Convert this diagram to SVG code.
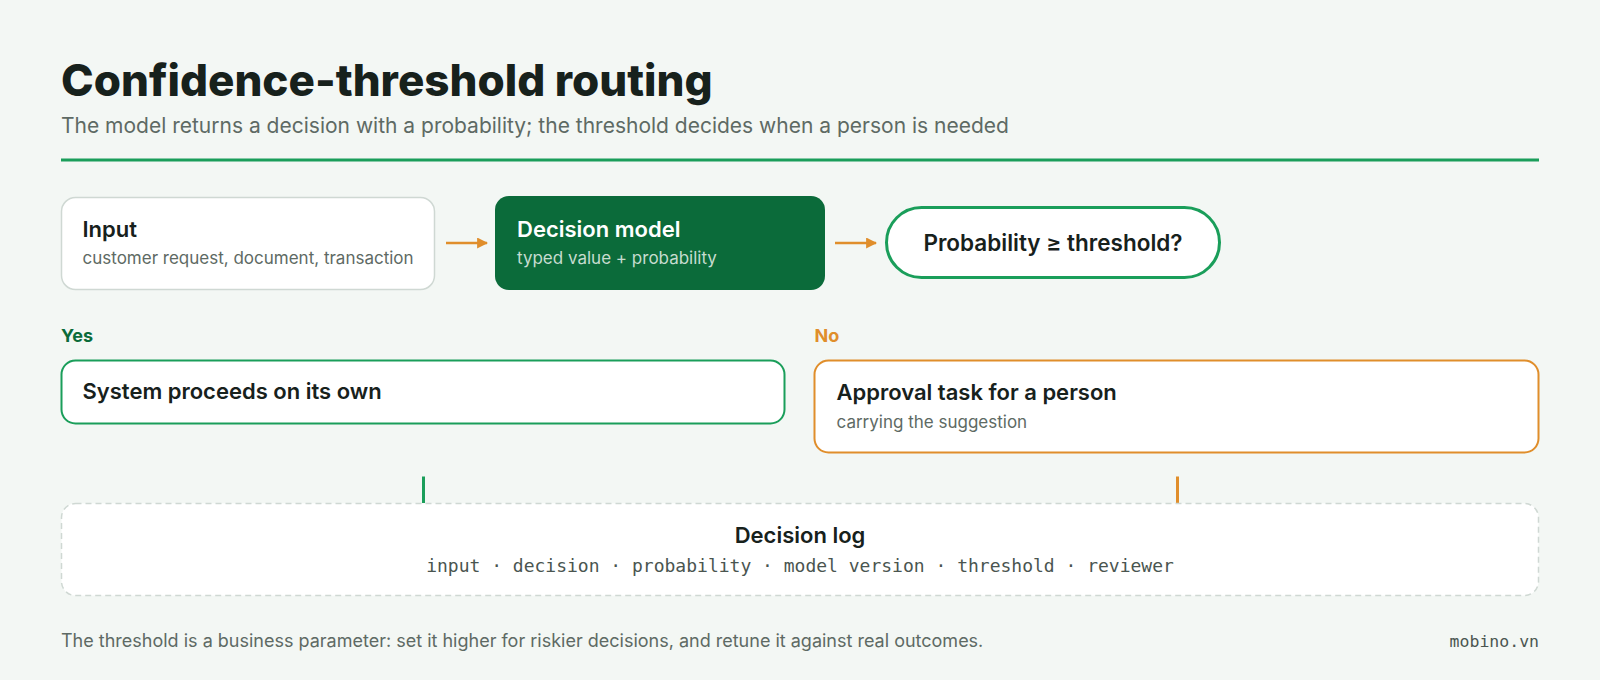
<svg xmlns="http://www.w3.org/2000/svg" width="1600" height="680" viewBox="0 0 1600 680">
<defs>
<style>
.sans{font-family:Inter,"Noto Sans","Liberation Sans",sans-serif}
.mono{font-family:"DejaVu Sans Mono","Liberation Mono",monospace}
.ttl{font-size:22px;font-weight:600;fill:#17211c}
.sub{font-size:17px;fill:#5e6a64}
.card{fill:#ffffff}
</style>
<marker id="ah" viewBox="0 0 10 10" refX="9" refY="5" markerWidth="11" markerHeight="11" markerUnits="userSpaceOnUse" orient="auto">
<path d="M0,0 L10,5 L0,10 z" fill="#e08e2b"/>
</marker>
</defs>
<rect width="1600" height="680" fill="#f3f7f4"/>
<text x="61" y="96" class="sans" font-size="44" font-weight="800" fill="#17211c">Confidence-threshold routing</text>
<text x="61" y="133" class="sans" font-size="21" fill="#5e6a64">The model returns a decision with a probability; the threshold decides when a person is needed</text>
<rect x="61" y="158.5" width="1478" height="3" fill="#1a9e5a"/>

<g id="connectors">
<line x1="446" y1="243" x2="487" y2="243" stroke="#e08e2b" stroke-width="2.5" marker-end="url(#ah)"/>
<line x1="835" y1="243" x2="876" y2="243" stroke="#e08e2b" stroke-width="2.5" marker-end="url(#ah)"/>
<line x1="423.5" y1="476.5" x2="423.5" y2="503" stroke="#1a9e5a" stroke-width="3"/>
<line x1="1177.5" y1="476.5" x2="1177.5" y2="503" stroke="#e08e2b" stroke-width="3"/>
</g>

<g id="input">
<rect x="61.5" y="197.5" width="373" height="92" rx="14" class="card" stroke="#cfd8d3" stroke-width="1.5"/>
<text x="82.5" y="236.5" class="sans ttl">Input</text>
<text x="82.5" y="264" class="sans sub">customer request, document, transaction</text>
</g>

<g id="model">
<rect x="495" y="196" width="330" height="94" rx="14" fill="#0b6b3a"/>
<text x="517" y="236.5" class="sans ttl" style="fill:#ffffff">Decision model</text>
<text x="517" y="264" class="sans sub" style="fill:#c6dccf">typed value + probability</text>
</g>

<g id="check">
<rect x="886.5" y="207.5" width="333" height="70" rx="35" class="card" stroke="#1a9e5a" stroke-width="3"/>
<text x="1053" y="251" text-anchor="middle" class="sans ttl" style="font-size:22.5px">Probability ≥ threshold?</text>
</g>

<g id="yes">
<text x="61" y="341.5" class="sans" font-size="18" font-weight="700" fill="#0b6b3a">Yes</text>
<rect x="61.5" y="360.5" width="723" height="63" rx="14" class="card" stroke="#1a9e5a" stroke-width="2"/>
<text x="82.5" y="399" class="sans ttl">System proceeds on its own</text>
</g>

<g id="no">
<text x="814.5" y="341.5" class="sans" font-size="18" font-weight="700" fill="#e08e2b">No</text>
<rect x="814.5" y="360.5" width="724" height="92" rx="14" class="card" stroke="#e08e2b" stroke-width="2"/>
<text x="836.5" y="400" class="sans ttl">Approval task for a person</text>
<text x="836.5" y="427.5" class="sans sub">carrying the suggestion</text>
</g>

<g id="log">
<rect x="61.5" y="503.5" width="1477" height="92" rx="14" class="card" stroke="#cfd8d3" stroke-width="1.5" stroke-dasharray="6 4"/>
<text x="800" y="543" text-anchor="middle" class="sans ttl">Decision log</text>
<text x="800" y="571.5" text-anchor="middle" class="mono" font-size="18" fill="#4a5550">input · decision · probability · model version · threshold · reviewer</text>
</g>

<text x="61" y="647" class="sans" font-size="18" fill="#5e6a64">The threshold is a business parameter: set it higher for riskier decisions, and retune it against real outcomes.</text>
<text x="1539" y="647" text-anchor="end" class="mono" font-size="16.5" fill="#4a5550">mobino.vn</text>
</svg>
